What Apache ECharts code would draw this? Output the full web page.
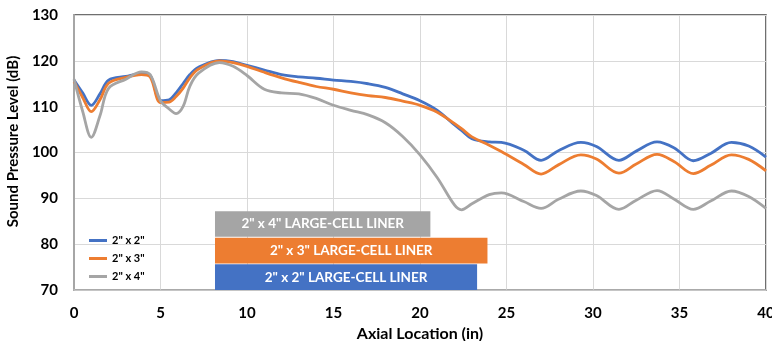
<!DOCTYPE html>
<html>
<head>
<meta charset="utf-8">
<script src="https://cdn.jsdelivr.net/npm/echarts@6/dist/echarts.min.js"></script>
<style>
  html, body { margin: 0; padding: 0; background: #fff; }
  #chart { width: 772px; height: 341px; }
</style>
</head>
<body>
<div id="chart"></div>
<script>
// Axial positions (in) shared by the three liner curves
const axial = [0, 0.5, 1, 1.5, 2, 3, 3.9, 4.4, 5, 5.5, 5.9, 6.3, 6.7, 7.2, 8.4, 9.2, 10, 11, 12, 13, 14, 15, 16, 17, 18, 19, 20, 21, 22, 22.4, 23, 24, 24.7, 26, 27, 28, 29.3, 30.2, 31.5, 32.5, 33.7, 34.7, 35.8, 36.8, 38, 39, 40];

// Sound pressure level (dB) for each liner cell size
const spl2x2 = [115.8, 113.0, 110.3, 112.8, 115.8, 116.6, 117.2, 116.8, 111.3, 111.5, 113.0, 115.0, 117.0, 118.6, 120.1, 119.8, 119.0, 118.0, 117.0, 116.5, 116.2, 115.8, 115.5, 115.0, 114.2, 112.8, 111.3, 109.2, 106.0, 104.8, 103.0, 102.3, 102.2, 100.5, 98.3, 100.4, 102.2, 101.3, 98.3, 100.3, 102.3, 101.0, 98.2, 99.8, 102.2, 101.4, 99.0];
const spl2x3 = [115.5, 112.0, 108.9, 111.5, 115.1, 116.4, 117.0, 116.5, 110.9, 111.0, 112.2, 114.0, 116.3, 118.2, 120.0, 119.6, 118.8, 117.5, 116.3, 115.3, 114.4, 113.8, 113.0, 112.4, 112.0, 111.2, 110.3, 108.8, 106.3, 105.2, 103.4, 101.6, 100.2, 97.4, 95.3, 97.3, 99.5, 98.6, 95.5, 97.5, 99.6, 98.0, 95.4, 97.2, 99.5, 98.5, 96.0];
const spl2x4 = [116.0, 109.0, 103.3, 108.0, 114.0, 116.0, 117.6, 117.0, 111.3, 109.5, 108.5, 110.0, 114.5, 117.3, 119.6, 118.8, 116.8, 113.8, 113.0, 112.8, 111.8, 110.3, 109.2, 108.2, 106.5, 103.5, 99.5, 94.5, 88.5, 87.5, 88.8, 90.8, 91.2, 89.3, 87.8, 89.8, 91.6, 90.6, 87.6, 89.6, 91.7, 89.8, 87.6, 89.4, 91.6, 90.4, 87.8];

const seriesNames = ['2" x 2"', '2" x 3"', '2" x 4"'];

// Large-cell liner extents: axial start/end (in) and band (dB)
const linerNames = ['2" x 2" LARGE-CELL LINER', '2" x 3" LARGE-CELL LINER', '2" x 4" LARGE-CELL LINER'];
const linerStart = [8.15, 8.15, 8.15];
const linerEnd = [23.3, 23.9, 20.6];
const linerLow = [70, 75.8, 81.6];
const linerHigh = [75.6, 81.4, 87.2];

const colors = ['#4472C4', '#ED7D31', '#A5A5A5'];
const FONT = 'Lato, "Open Sans", sans-serif';

const chart = echarts.init(document.getElementById('chart'));

const lineSeries = [spl2x2, spl2x3, spl2x4].map((vals, i) => ({
  name: seriesNames[i],
  type: 'line',
  smooth: 0.35,
  symbol: 'none',
  z: 3,
  lineStyle: { color: colors[i], width: 2.8 },
  itemStyle: { color: colors[i] },
  data: axial.map((x, k) => [x, vals[k]])
}));

const linerSeries = {
  type: 'custom',
  z: 2,
  silent: true,
  encode: { x: [0, 1], y: [2, 3] },
  data: linerNames.map((n, i) => [linerStart[i], linerEnd[i], linerLow[i], linerHigh[i], i]),
  renderItem: function (params, api) {
    const idx = api.value(4);
    const tl = api.coord([api.value(0), api.value(3)]);
    const br = api.coord([api.value(1), api.value(2)]);
    return {
      type: 'rect',
      shape: { x: tl[0], y: tl[1], width: br[0] - tl[0], height: br[1] - tl[1] },
      style: { fill: colors[idx] },
      textContent: {
        type: 'text',
        style: {
          text: linerNames[idx],
          fill: '#ffffff',
          font: 'bold 13.5px ' + FONT
        }
      },
      textConfig: { position: 'inside' }
    };
  }
};

chart.setOption({
  animation: false,
  backgroundColor: '#ffffff',
  grid: {
    left: 74, right: 6, top: 15, bottom: 51,
    outerBoundsMode: 'none',
    containLabel: false,
    show: true, borderColor: '#404040', borderWidth: 1.5
  },
  legend: {
    data: seriesNames,
    orient: 'vertical',
    left: 84,
    top: 229,
    itemWidth: 18,
    itemHeight: 3,
    itemGap: 5,
    icon: 'rect',
    textStyle: { fontFamily: FONT, fontWeight: 'bold', fontSize: 11, color: '#000', lineHeight: 13 }
  },
  xAxis: {
    type: 'value',
    min: 0, max: 40, interval: 5,
    name: 'Axial Location (in)',
    nameLocation: 'middle',
    nameGap: 31,
    nameTextStyle: { fontFamily: FONT, fontWeight: 'bold', fontSize: 16, color: '#000' },
    axisLine: { show: true, lineStyle: { color: '#BFBFBF', width: 1.5 } },
    axisTick: { show: false },
    axisLabel: { fontFamily: FONT, fontWeight: 'bold', fontSize: 15, color: '#000', margin: 16 },
    splitLine: { show: true, lineStyle: { color: '#D9D9D9', width: 1 } }
  },
  yAxis: {
    type: 'value',
    min: 70, max: 130, interval: 10,
    name: 'Sound Pressure Level (dB)',
    nameLocation: 'middle',
    nameGap: 46,
    nameTextStyle: { fontFamily: FONT, fontWeight: 'bold', fontSize: 15, color: '#000', padding: [0, 0, 0, 22] },
    axisLine: { show: true, lineStyle: { color: '#A6A6A6', width: 2 } },
    axisTick: { show: false },
    axisLabel: { fontFamily: FONT, fontWeight: 'bold', fontSize: 15, color: '#000', margin: 16 },
    splitLine: { show: true, lineStyle: { color: '#D9D9D9', width: 1 } }
  },
  series: [linerSeries].concat(lineSeries)
});
</script>
</body>
</html>
